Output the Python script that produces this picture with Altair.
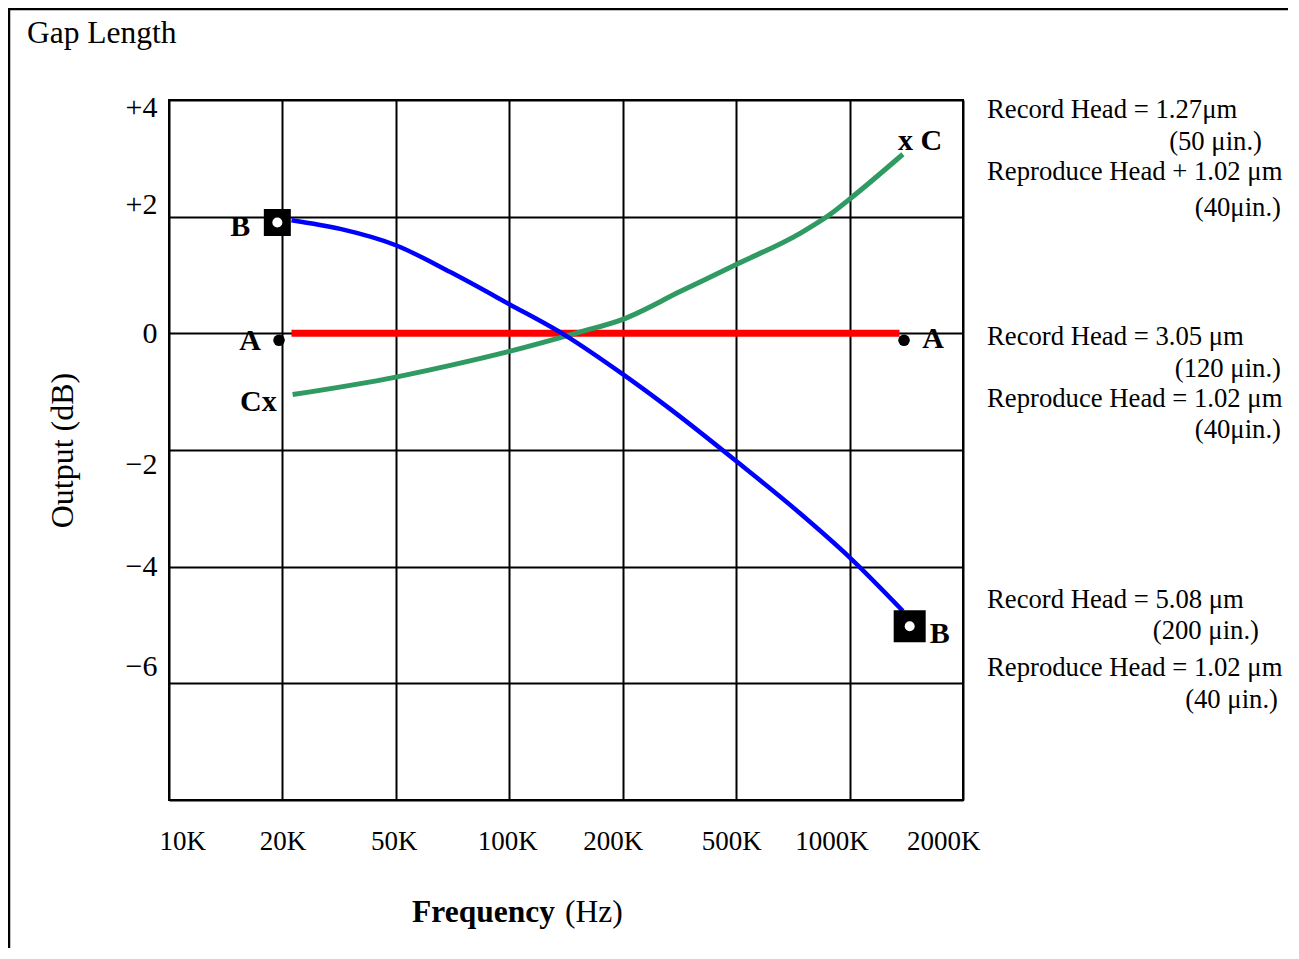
import altair as alt
import pandas as pd

# ---- data ----
tick_labels = ["10K", "20K", "50K", "100K", "200K", "500K", "1000K", "2000K"]
y_ticks = [-8, -6, -4, -2, 0, 2, 4]

blue_x = [1.08, 1.51, 2.0, 2.48, 3.0, 3.49, 4.0, 4.42, 5.0, 5.56, 6.0, 6.47]
blue_y = [1.94, 1.79, 1.51, 1.05, 0.50, -0.03, -0.70, -1.30, -2.19, -3.08, -3.84, -4.76]

green_x = [1.09, 2.0, 2.48, 3.0, 3.62, 4.0, 4.51, 5.0, 5.56, 5.83, 6.0, 6.47]
green_y = [-1.05, -0.75, -0.55, -0.31, 0.02, 0.24, 0.72, 1.18, 1.71, 2.04, 2.30, 3.07]

red_x = [1.08, 6.44]
red_y = [0.0, 0.0]

a_x = [0.97, 6.48]
a_y = [-0.12, -0.12]

b_x = [0.955, 6.53]
b_y = [1.90, -5.02]

notes_group1 = ["Record Head = 1.27\u03bcm", "(50 \u03bcin.)", "Reproduce Head + 1.02 \u03bcm", "(40\u03bcin.)"]
notes_group2 = ["Record Head = 3.05 \u03bcm", "(120 \u03bcin.)", "Reproduce Head = 1.02 \u03bcm", "(40\u03bcin.)"]
notes_group3 = ["Record Head = 5.08 \u03bcm", "(200 \u03bcin.)", "Reproduce Head = 1.02 \u03bcm", "(40 \u03bcin.)"]

FONT = "Liberation Serif"

xscale = alt.Scale(domain=[0, 7], nice=False, zero=False)
yscale = alt.Scale(domain=[-8, 4], nice=False, zero=False)

label_arr = "[" + ",".join("'" + t + "'" for t in tick_labels) + "]"
xaxis = alt.Axis(
    values=list(range(len(tick_labels))),
    labelExpr=label_arr + "[datum.value]",
    title=None,
    grid=True,
    labelFlush=True,
    labelFlushOffset=10,
    labelPadding=28,
    labelFontSize=27,
    labelOffset={
        "condition": [
            {"test": "datum.value == 2", "value": -2},
            {"test": "datum.value == 3", "value": -2},
            {"test": "datum.value == 4", "value": -10},
            {"test": "datum.value == 5", "value": -5},
            {"test": "datum.value == 6", "value": -18},
            {"test": "datum.value == 7", "value": 7},
        ],
        "value": 0,
    },
)
yaxis = alt.Axis(
    values=y_ticks,
    labelExpr="datum.value == -8 ? '' : datum.value > 0 ? '+' + datum.value : datum.value < 0 ? '\u2212' + abs(datum.value) : '0'",
    title="Output (dB)",
    titleFontSize=32,
    titleFontWeight="normal",
    titlePadding=46,
    grid=True,
    labelPadding=12,
    labelFontSize=30,
    labelOffset={
        "condition": [
            {"test": "datum.value == 4", "value": 7},
            {"test": "datum.value == 2", "value": -12},
            {"test": "datum.value == -2", "value": 14},
            {"test": "datum.value == -6", "value": -17},
        ],
        "value": 0,
    },
)


def X():
    return alt.X("x:Q", scale=xscale, axis=xaxis)


def Y():
    return alt.Y("y:Q", scale=yscale, axis=yaxis)


blue_df = pd.DataFrame({"x": blue_x, "y": blue_y})
green_df = pd.DataFrame({"x": green_x, "y": green_y})
red_df = pd.DataFrame({"x": red_x, "y": red_y})
a_df = pd.DataFrame({"x": a_x, "y": a_y})
b1_df = pd.DataFrame({"x": [b_x[0]], "y": [b_y[0]]})
b2_df = pd.DataFrame({"x": [b_x[1]], "y": [b_y[1]]})
g_start = pd.DataFrame({"x": [green_x[0]], "y": [green_y[0]], "t": ["Cx"]})
g_end = pd.DataFrame({"x": [green_x[-1]], "y": [green_y[-1]], "t": ["x C"]})
a1_df = pd.DataFrame({"x": [a_x[0]], "y": [a_y[0]], "t": ["A"]})
a2_df = pd.DataFrame({"x": [a_x[1]], "y": [a_y[1]], "t": ["A"]})
b1_t = pd.DataFrame({"x": [b_x[0]], "y": [b_y[0]], "t": ["B"]})
b2_t = pd.DataFrame({"x": [b_x[1]], "y": [b_y[1]], "t": ["B"]})

one = pd.DataFrame({"k": [0]})

layers = []

# outer frame (only left and top edges fall inside the picture)
layers.append(
    alt.Chart(one).mark_rule(color="black", strokeWidth=2.5).encode(
        x=alt.value(-160), y=alt.value(-92), y2=alt.value(1000)
    )
)
layers.append(
    alt.Chart(one).mark_rule(color="black", strokeWidth=2.5).encode(
        x=alt.value(-161), x2=alt.value(1300), y=alt.value(-91)
    )
)

layers.append(alt.Chart(red_df).mark_line(color="#ff0000", strokeWidth=7).encode(x=X(), y=Y()))
layers.append(
    alt.Chart(green_df).mark_line(color="#2f9a62", strokeWidth=5, interpolate="monotone").encode(x=X(), y=Y())
)
layers.append(
    alt.Chart(blue_df).mark_line(color="#0000ff", strokeWidth=4.5, interpolate="monotone").encode(x=X(), y=Y())
)
layers.append(
    alt.Chart(a_df).mark_circle(color="black", size=133, opacity=1).encode(x=X(), y=Y())
)
layers.append(
    alt.Chart(b1_df).mark_square(color="black", size=729, opacity=1).encode(x=X(), y=Y())
)
layers.append(
    alt.Chart(b2_df).mark_square(color="black", size=1024, opacity=1).encode(x=X(), y=Y())
)
layers.append(
    alt.Chart(pd.concat([b1_df, b2_df])).mark_circle(color="white", size=100, opacity=1).encode(x=X(), y=Y())
)

lbl = dict(font=FONT, fontSize=30, fontWeight="bold", color="black", baseline="middle")
layers.append(alt.Chart(b1_t).mark_text(align="center", dx=-37, dy=4, **lbl).encode(x=X(), y=Y(), text="t:N"))
layers.append(alt.Chart(b2_t).mark_text(align="center", dx=30, dy=8, **lbl).encode(x=X(), y=Y(), text="t:N"))
layers.append(alt.Chart(a1_df).mark_text(align="center", dx=-29, dy=1, **lbl).encode(x=X(), y=Y(), text="t:N"))
layers.append(alt.Chart(a2_df).mark_text(align="center", dx=29, dy=-1, **lbl).encode(x=X(), y=Y(), text="t:N"))
layers.append(alt.Chart(g_start).mark_text(align="right", dx=-16, dy=7, **lbl).encode(x=X(), y=Y(), text="t:N"))
layers.append(alt.Chart(g_end).mark_text(align="left", dx=-5, dy=-13, **lbl).encode(x=X(), y=Y(), text="t:N"))

# title
layers.append(
    alt.Chart(one).mark_text(font=FONT, fontSize=31.5, align="left", baseline="middle", color="black").encode(
        x=alt.value(-142), y=alt.value(-66), text=alt.value("Gap Length")
    )
)

# x-axis title (mixed weights)
layers.append(
    alt.Chart(one).mark_text(font=FONT, fontSize=31.5, fontWeight="bold", align="right", baseline="middle", color="black").encode(
        x=alt.value(386), y=alt.value(813), text=alt.value("Frequency")
    )
)
layers.append(
    alt.Chart(one).mark_text(font=FONT, fontSize=31.5, align="left", baseline="middle", color="black").encode(
        x=alt.value(396), y=alt.value(813), text=alt.value("(Hz)")
    )
)

# side notes: (x, align, y) positions in px of the plot area
LEFT = 818
note_layout = [
    (notes_group1, [(LEFT, "left", 10), (1093, "right", 42), (LEFT, "left", 72), (1112, "right", 108)]),
    (notes_group2, [(LEFT, "left", 237), (1112, "right", 269), (LEFT, "left", 299), (1112, "right", 330)]),
    (notes_group3, [(LEFT, "left", 500), (1090, "right", 531), (LEFT, "left", 568), (1109, "right", 600)]),
]
for texts, lay in note_layout:
    for txt, (px, al, py) in zip(texts, lay):
        layers.append(
            alt.Chart(one).mark_text(font=FONT, fontSize=26.7, align=al, baseline="middle", color="black").encode(
                x=alt.value(px), y=alt.value(py), text=alt.value(txt)
            )
        )

chart = (
    alt.layer(*layers)
    .properties(
        width=794,
        height=700,
        autosize=alt.AutoSizeParams(type="none"),
        padding={"left": 161, "top": 92, "right": 325, "bottom": 148},
    )
    .configure_view(stroke="black", strokeWidth=2)
    .configure_axis(
        gridColor="black",
        gridWidth=2,
        gridOpacity=1,
        domain=False,
        ticks=False,
        labelFont=FONT,
        titleFont=FONT,
        labelColor="black",
        titleColor="black",
    )
)

chart.save("out.html", embed_options={"renderer": "svg", "actions": False})
